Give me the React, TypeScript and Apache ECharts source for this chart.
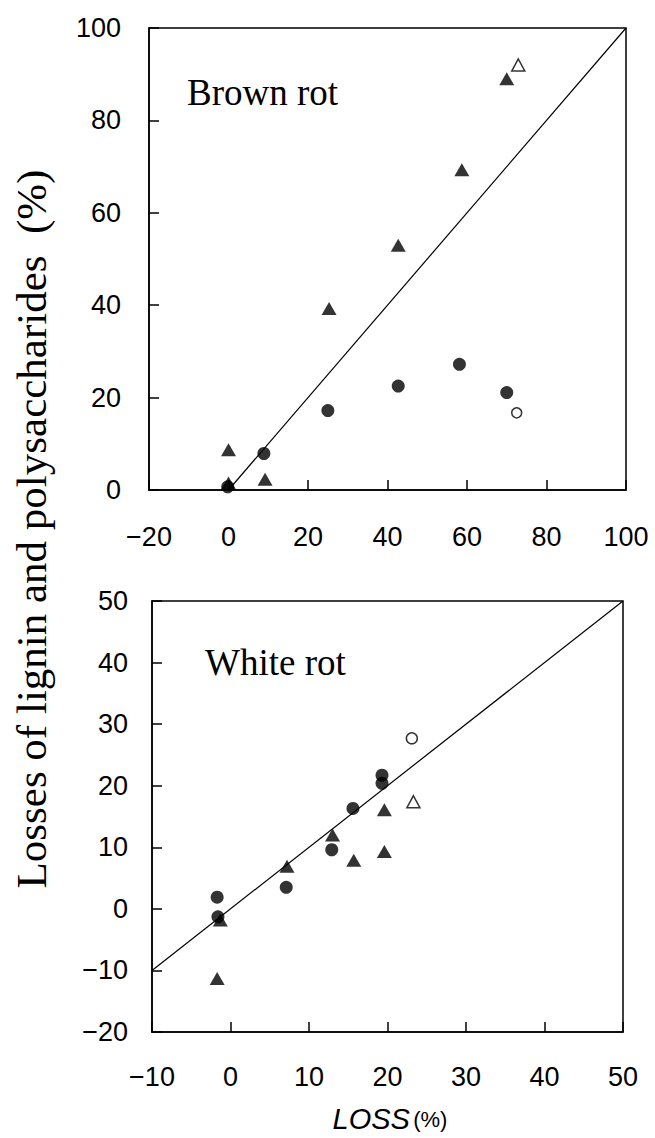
import React, { useEffect, useRef } from "react";
import * as echarts from "echarts";

// Brown rot panel
const brownFilledTriangles: number[][] = [[0, 8.7], [0, 1.5], [9.2, 2.3], [25.3, 39.3], [42.7, 53], [58.7, 69.3], [70, 89]];
const brownOpenTriangles: number[][] = [[72.9, 92]];
const brownFilledCircles: number[][] = [[-0.2, 0.7], [8.9, 7.9], [25, 17.2], [42.7, 22.5], [58.1, 27.2], [70, 21.1]];
const brownOpenCircles: number[][] = [[72.5, 16.7]];
const brownLine: number[][] = [[0, 0], [100, 100]];

// White rot panel
const whiteFilledTriangles: number[][] = [[19.6, 16.1], [13.0, 12.0], [19.6, 9.3], [15.7, 7.9], [7.2, 6.9], [-1.3, -1.8], [-1.7, -11.3]];
const whiteOpenTriangles: number[][] = [[23.3, 17.4]];
const whiteFilledCircles: number[][] = [[19.3, 21.7], [19.3, 20.4], [15.6, 16.3], [12.9, 9.6], [7.1, 3.5], [-1.7, 1.9], [-1.6, -1.3]];
const whiteOpenCircles: number[][] = [[23.1, 27.7]];
const whiteLine: number[][] = [[-10, -10], [50, 50]];

const topXRange = [-20, 100, 20];
const topYRange = [0, 100, 20];
const botXRange = [-10, 50, 10];
const botYRange = [-20, 50, 10];

const fmt = (v: number) => (v < 0 ? "\u2212" + Math.abs(v) : String(v));

const labelFont = { fontFamily: "Liberation Sans", fontSize: 27, color: "#000" };

function axis(gridIndex: number, r: number[], margin: number) {
  return {
    type: "value", gridIndex, min: r[0], max: r[1], interval: r[2],
    axisLine: { show: true, onZero: false, lineStyle: { color: "#000", width: 1.5 } },
    axisTick: { show: true, inside: true, length: 10, lineStyle: { color: "#000", width: 1.5 } },
    axisLabel: { ...labelFont, margin, formatter: fmt },
    splitLine: { show: false },
  };
}

function scatter(idx: number, data: number[][], symbol: string, size: any, filled: boolean) {
  return {
    type: "scatter", xAxisIndex: idx, yAxisIndex: idx, data, symbol, symbolSize: size,
    itemStyle: filled
      ? { color: "#000", borderColor: "#000", borderWidth: 0 }
      : { color: "#fff", borderColor: "#000", borderWidth: 1.5 },
    z: 3,
  };
}
function line(idx: number, data: number[][]) {
  return {
    type: "line", xAxisIndex: idx, yAxisIndex: idx, data, showSymbol: false, symbol: "none",
    lineStyle: { color: "#000", width: 1.2 }, z: 2,
  };
}

export default function App() {
  const ref = useRef<HTMLDivElement>(null);
  useEffect(() => {
    document.body.style.margin = "0";
    const chart = echarts.init(ref.current!, null, { renderer: "svg" });
    chart.setOption({
      animation: false,
      backgroundColor: "#fff",
      grid: [
        { left: 149, top: 28, width: 477, height: 462, show: true, borderColor: "#000", borderWidth: 1.5, backgroundColor: "transparent" },
        { left: 152, top: 601, width: 471, height: 431, show: true, borderColor: "#000", borderWidth: 1.5, backgroundColor: "transparent" },
      ],
      xAxis: [axis(0, topXRange, 33), axis(1, botXRange, 31)],
      yAxis: [axis(0, topYRange, 28), axis(1, botYRange, 24)],
      series: [
        line(0, brownLine),
        scatter(0, brownFilledTriangles, "triangle", [15, 13], true),
        scatter(0, brownOpenTriangles, "triangle", [13, 12], false),
        scatter(0, brownFilledCircles, "circle", 13, true),
        scatter(0, brownOpenCircles, "circle", 10, false),
        line(1, whiteLine),
        scatter(1, whiteFilledTriangles, "triangle", [15, 13], true),
        scatter(1, whiteOpenTriangles, "triangle", [13, 12], false),
        scatter(1, whiteFilledCircles, "circle", 13, true),
        scatter(1, whiteOpenCircles, "circle", 11, false),
      ],
      graphic: [
        {
          type: "text", left: 187, top: 74,
          style: { text: "Brown rot", fontFamily: "Liberation Serif", fontSize: 37, fill: "#000" },
        },
        {
          type: "text", left: 205, top: 644,
          style: { text: "White rot", fontFamily: "Liberation Serif", fontSize: 37, fill: "#000" },
        },
        {
          type: "text", x: 31, y: 529, rotation: Math.PI / 2,
          style: {
            text: "Losses of lignin and polysaccharides  (%)",
            fontFamily: "Liberation Serif", fontSize: 43, fill: "#000",
            align: "center", verticalAlign: "middle",
          },
        },
        {
          type: "text", x: 390, y: 1119,
          style: {
            text: "{a|LOSS} {b|(%)}",
            align: "center", verticalAlign: "middle",
            rich: {
              a: { fontFamily: "Liberation Sans", fontStyle: "italic", fontSize: 29, fill: "#000", color: "#000" },
              b: { fontFamily: "Liberation Sans", fontSize: 22, fill: "#000", color: "#000" },
            },
          },
        },
      ],
    });
    return () => chart.dispose();
  }, []);
  return <div ref={ref} style={{ width: 655, height: 1138 }} />;
}
